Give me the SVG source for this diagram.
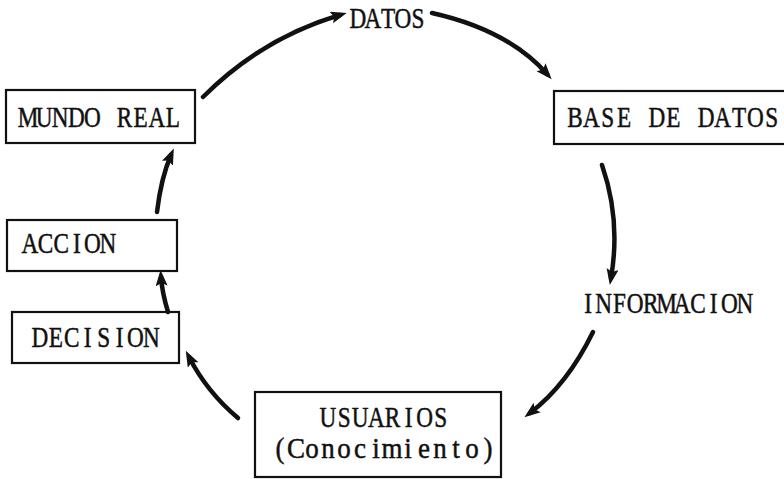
<svg xmlns="http://www.w3.org/2000/svg" width="784" height="479" viewBox="0 0 784 479">
<style>
.box{fill:#fff;stroke:#111;stroke-width:2.2}
.t{font-family:"Liberation Serif","DejaVu Serif",serif;font-size:29px;fill:#111;stroke:#111;stroke-width:0.5;text-anchor:middle}
.c{fill:none;stroke:#111;stroke-width:4.5;stroke-linecap:round}
</style>
<defs>
<marker id="ah" markerUnits="userSpaceOnUse" markerWidth="20" markerHeight="14" refX="9" refY="6" orient="auto">
<path d="M0,0 L16,6 L0,12 L3,6 z" fill="#111"/>
</marker>
</defs>
<rect width="784" height="479" fill="#fff"/>
<g id="mundo-real"><rect class="box" x="6" y="90" width="189" height="53"/><text class="t" transform="translate(28,127) scale(0.8,1)" x="0 20.13 40.25 60.38 80.5 100.63 120.75 140.88 161 181.13" y="0">MUNDO REAL</text></g>
<g id="datos"><text class="t" transform="translate(358,28) scale(0.8,1)" x="0 18.75 37.5 56.25 75" y="0">DATOS</text></g>
<g id="base-de-datos"><rect class="box" x="554" y="91" width="240" height="53"/><text class="t" transform="translate(575,127) scale(0.8,1)" x="0 20.5 41 61.5 82 102.5 123 143.5 164 184.5 205 225.5 246" y="0">BASE DE DATOS</text></g>
<g id="informacion"><text class="t" transform="translate(588,313) scale(0.8,1)" x="0 19.63 39.25 58.88 78.5 98.13 117.75 137.38 157 176.63 196.25" y="0">INFORMACION</text></g>
<g id="usuarios"><rect class="box" x="255" y="392" width="246" height="85"/><text class="t" transform="translate(328,427) scale(0.8,1)" x="0 20.13 40.25 60.38 80.5 100.63 120.75 140.88" y="0">USUARIOS</text><text class="t" style="font-size:30px" transform="translate(280,458) scale(0.9,1)" x="0 17.78 35.56 53.33 71.11 88.89 106.67 124.44 142.22 160 177.78 195.56 213.33 231.11" y="0">(Conocimiento)</text></g>
<g id="decision"><rect class="box" x="12" y="312" width="167" height="51"/><text class="t" transform="translate(40,347) scale(0.8,1)" x="0 19.88 39.75 59.63 79.5 99.38 119.25 139.13" y="0">DECISION</text></g>
<g id="accion"><rect class="box" x="7" y="220" width="170" height="51"/><text class="t" transform="translate(30,253) scale(0.8,1)" x="0 19.5 39 58.5 78 97.5" y="0">ACCION</text></g>
<g id="connectors">
<path class="c" d="M203,97 Q262,38 340,15" marker-end="url(#ah)"/>
<path class="c" d="M432,13 Q508,30 547,74" marker-end="url(#ah)"/>
<path class="c" d="M602,165 Q621,220 611,278" marker-end="url(#ah)"/>
<path class="c" d="M593,332 Q567,385 530,413" marker-end="url(#ah)"/>
<path class="c" d="M238,418 Q207,392 189,357" marker-end="url(#ah)"/>
<path class="c" d="M168,312 Q162,292 161,277" marker-end="url(#ah)"/>
<path class="c" d="M157,212 Q161,178 171,155" marker-end="url(#ah)"/>
</g>
</svg>
